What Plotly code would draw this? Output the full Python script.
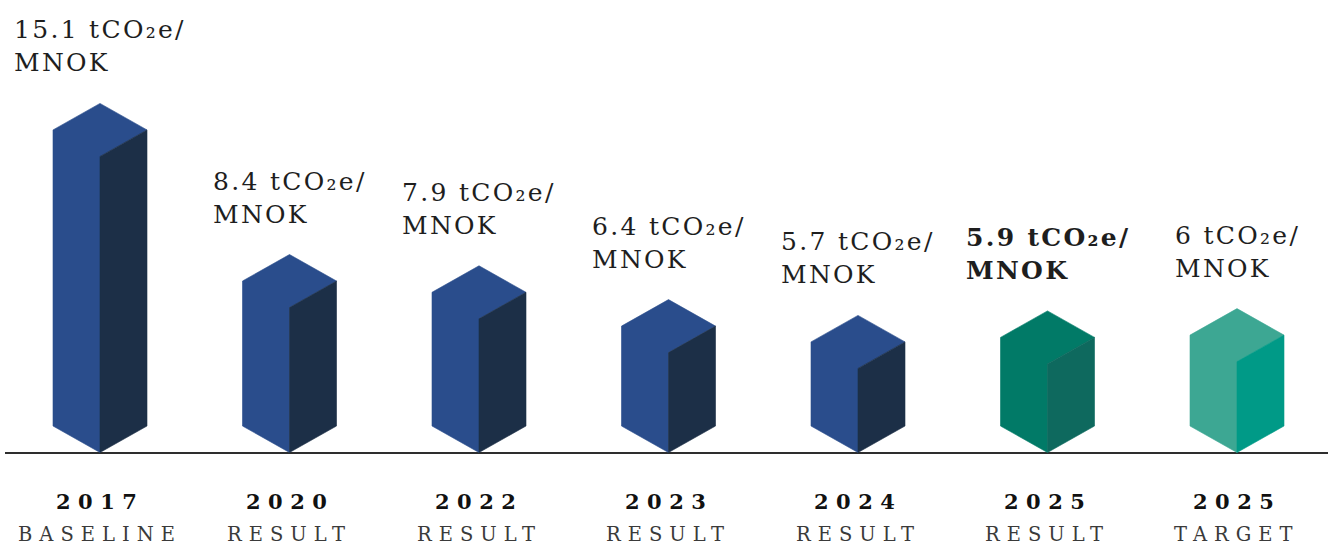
import plotly.graph_objects as go

# ---- data -------------------------------------------------------------
years = ["2017", "2020", "2022", "2023", "2024", "2025", "2025"]
kinds = ["BASELINE", "RESULT", "RESULT", "RESULT", "RESULT", "RESULT", "TARGET"]
intensity = [15.1, 8.4, 7.9, 6.4, 5.7, 5.9, 6.0]          # tCO2e / MNOK
unit_line1 = "tCO₂e/"
unit_line2 = "MNOK"
highlight = [False, False, False, False, False, True, False]

# face colours per block: (front-left + top, right)
blue = ("#2a4d8c", "#1c2f47")
teal = ("#017a67", "#0e695e")
light_teal = ("#3da793", "#009a87")
face_colors = [blue, blue, blue, blue, blue, teal, light_teal]

# ---- geometry of the isometric blocks --------------------------------
W_PX, H_PX = 1333, 554
X_UNIT_PX = 189.5          # pixels between block centres
FIRST_CENTER_PX = 100
Y_UNIT_PX = 22.55          # pixels per tCO2e/MNOK
BASE_PX = 452.5            # where the blocks stand
FLOOR = 1.97               # axis value at the ground line
HALF_W = 47 / X_UNIT_PX    # half block width
DEPTH = 26.5 / Y_UNIT_PX   # vertical drop of the top rhombus edges

x_range = [-FIRST_CENTER_PX / X_UNIT_PX, (W_PX - FIRST_CENTER_PX) / X_UNIT_PX]
y_range = [FLOOR - (H_PX - BASE_PX) / Y_UNIT_PX, FLOOR + BASE_PX / Y_UNIT_PX]

fig = go.Figure()


def face(xs, ys, color):
    fig.add_trace(go.Scatter(
        x=xs + [xs[0]], y=ys + [ys[0]], mode="lines", fill="toself",
        fillcolor=color, line=dict(color=color, width=0.6),
        hoverinfo="skip", showlegend=False))


for i, v in enumerate(intensity):
    c = i
    front_c, right_c = face_colors[i]
    # front-left face joined with the top rhombus (same shade)
    face([c - HALF_W, c, c, c + HALF_W, c, c - HALF_W],
         [FLOOR + DEPTH, FLOOR, v, v + DEPTH, v + 2 * DEPTH, v + DEPTH],
         front_c)
    # right face
    face([c, c + HALF_W, c + HALF_W, c],
         [FLOOR, FLOOR + DEPTH, v + DEPTH, v], right_c)

# ground line
fig.add_shape(type="line", xref="x", yref="y",
              x0=(5 - FIRST_CENTER_PX) / X_UNIT_PX,
              x1=(1328 - FIRST_CENTER_PX) / X_UNIT_PX,
              y0=FLOOR - 0.6 / Y_UNIT_PX, y1=FLOOR - 0.6 / Y_UNIT_PX,
              line=dict(color="#2e2e2e", width=2), layer="below")

SERIF = "DejaVu Serif"

# value labels above each block
for i, v in enumerate(intensity):
    txt = f"{v:g} {unit_line1}<br>{unit_line2}"
    if highlight[i]:
        txt = f"<b>{txt}</b>"
    fig.add_annotation(
        x=i, y=v + 2 * DEPTH, xref="x", yref="y",
        text=f'<span style="letter-spacing:2.3px">{txt}</span>',
        showarrow=False, xanchor="center", yanchor="bottom", align="left",
        yshift=24,
        font=dict(family=SERIF, size=25, color="#1e1e1e"))

# category labels under the ground line
for i, (yr, kd) in enumerate(zip(years, kinds)):
    fig.add_annotation(
        x=i, y=1 - 501 / H_PX, xref="x", yref="paper",
        text=f'<span style="letter-spacing:7.5px"><b>{yr}</b></span>',
        showarrow=False, xanchor="center", yanchor="middle",
        font=dict(family=SERIF, size=21, color="#111111"))
    fig.add_annotation(
        x=i, y=1 - 534 / H_PX, xref="x", yref="paper",
        text=f'<span style="letter-spacing:7px">{kd}</span>',
        showarrow=False, xanchor="center", yanchor="middle",
        font=dict(family=SERIF, size=19.5, color="#3a3a3a"))

fig.update_layout(
    width=W_PX, height=H_PX,
    margin=dict(l=0, r=0, t=0, b=0),
    paper_bgcolor="white", plot_bgcolor="white",
    showlegend=False,
    xaxis=dict(range=x_range, visible=False, fixedrange=True),
    yaxis=dict(range=y_range, visible=False, fixedrange=True),
)

fig.write_html("out.html")
